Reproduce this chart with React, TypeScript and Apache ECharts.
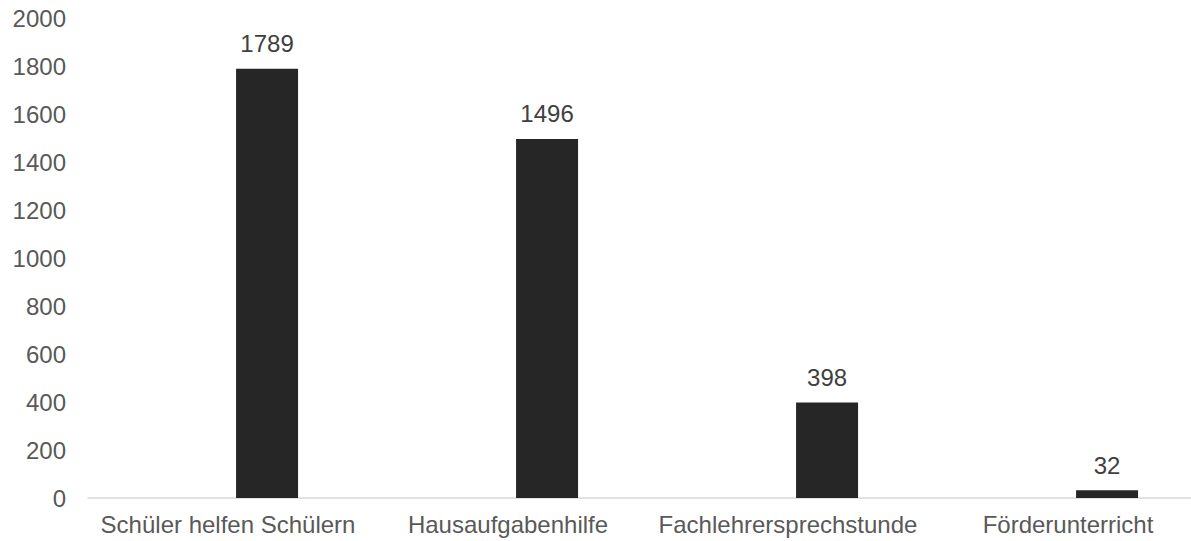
import React, { useEffect, useRef } from "react";
import * as echarts from "echarts";

const categories = ["Schüler helfen Schülern", "Hausaufgabenhilfe", "Fachlehrersprechstunde", "Förderunterricht"];
const values = [1789, 1496, 398, 32];
const emptySeries = [null, null, null, null];

export default function App() {
  const ref = useRef<HTMLDivElement>(null);
  useEffect(() => {
    if (!ref.current) return;
    const chart = echarts.init(ref.current, undefined, { renderer: "svg" });
    chart.setOption({
      animation: false,
      backgroundColor: "#ffffff",
      textStyle: { fontFamily: "Liberation Sans, Arial, sans-serif" },
      grid: { left: 88, width: 1120, top: 18, bottom: 43, containLabel: false },
      xAxis: {
        type: "category",
        data: categories,
        axisLine: { show: true, lineStyle: { color: "#d9d9d9", width: 1.5 } },
        axisTick: { show: false },
        axisLabel: { color: "#595959", fontSize: 24, margin: 14, interval: 0 },
      },
      yAxis: {
        type: "value",
        min: 0,
        max: 2000,
        interval: 200,
        axisLine: { show: false },
        axisTick: { show: false },
        splitLine: { show: false },
        axisLabel: {
          color: "#595959",
          fontSize: 24,
          margin: 22,
          formatter: (v: number) => String(v),
        },
      },
      series: [
        {
          type: "bar",
          data: emptySeries,
          barWidth: 62,
          barGap: "26%",
          itemStyle: { color: "#262626" },
        },
        {
          type: "bar",
          data: values,
          barWidth: 62,
          barGap: "26%",
          itemStyle: { color: "#262626" },
          label: {
            show: true,
            position: "top",
            distance: 13,
            color: "#404040",
            fontSize: 24,
          },
        },
      ],
    });
    return () => chart.dispose();
  }, []);
  return (
    <div
      style={{ position: "absolute", left: 0, top: 0, width: 1191, height: 541, overflow: "hidden", background: "#fff" }}
    >
      <div ref={ref} style={{ width: 1240, height: 541 }} />
    </div>
  );
}
